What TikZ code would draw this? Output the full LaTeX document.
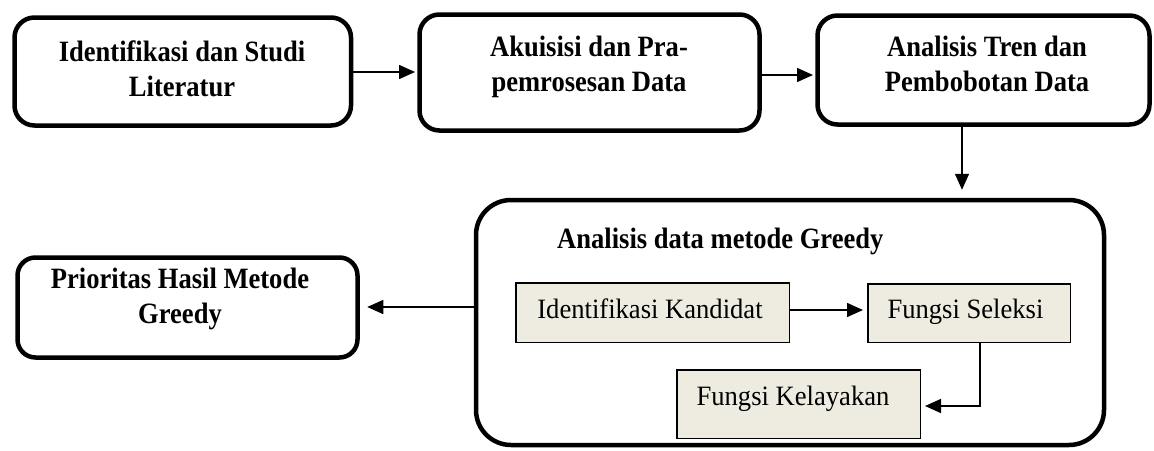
\documentclass[tikz,border=0pt]{standalone}
\usepackage{fontspec}
\setmainfont{Liberation Serif}[FakeStretch=0.95]
\newfontfamily\boldfam{Liberation Serif}[FakeStretch=0.9]
\usetikzlibrary{arrows.meta,calc}
\definecolor{boxfill}{RGB}{238,236,225}
\begin{document}
\begin{tikzpicture}[x=1pt,y=-1pt,
  roundbox/.style={draw, line width=4.5pt, rounded corners=20pt, inner sep=0pt},
  innerbox/.style={draw, line width=1.5pt, fill=boxfill, inner sep=0pt},
  boldtxt/.style={font=\boldfam\fontsize{29.5}{35}\selectfont\bfseries, align=center, inner sep=0pt, anchor=base},
  plaintxt/.style={font=\fontsize{28}{35}\selectfont, inner sep=0pt, anchor=base},
  arr/.style={line width=1.5pt, -{Triangle[length=16pt,width=14pt]}}]
\useasboundingbox (0,0) rectangle (1154,450);
% boxes
\node[roundbox, minimum width=336.5pt, minimum height=108pt] (b1) at (182.75,71.5) {};
\node[roundbox, minimum width=340pt, minimum height=116pt] (b2) at (589.5,72.5) {};
\node[roundbox, minimum width=332pt, minimum height=109pt] (b3) at (983.5,70) {};
\node[roundbox, rounded corners=35pt, minimum width=628pt, minimum height=245pt] (big) at (790,322.5) {};
\node[roundbox, rounded corners=18pt, minimum width=340pt, minimum height=100pt] (pr) at (187.5,307.5) {};
\node[innerbox, minimum width=273.5pt, minimum height=59.5pt] (ik) at (652.5,312.5) {};
\node[innerbox, minimum width=202.5pt, minimum height=58.5pt] (fs) at (969,313) {};
\node[innerbox, minimum width=243.5pt, minimum height=68.5pt] (fk) at (798.5,404) {};
% texts
\node[boldtxt] (t1) at (182,96) {Identifikasi dan Studi\\Literatur};
\node[boldtxt] (t2) at (589,91) {Akuisisi dan Pra-\\pemrosesan Data};
\node[boldtxt] (t3) at (987,91) {Analisis Tren dan\\Pembobotan Data};
\node[boldtxt] (t5) at (180,323) {Prioritas Hasil Metode\\Greedy};
\node[boldtxt, anchor=base west] (tt) at (557,248) {Analisis data metode Greedy};
\node[plaintxt] (tik) at (650,318) {Identifikasi Kandidat};
\node[plaintxt] (tfs) at (965.5,318) {Fungsi Seleksi};
\node[plaintxt] (tfk) at (793,405) {Fungsi Kelayakan};
% helper coordinates
\coordinate (y72) at (0,72);
\coordinate (y75) at (0,75);
\coordinate (y307) at (0,307);
\coordinate (y310) at (0,310);
\coordinate (y406) at (0,406);
\coordinate (x962) at (962,0);
\coordinate (x980) at (980,0);
% connectors
\draw[arr, shorten >=2.25pt] (b1.east |- y72) -- (b2.west |- y72);
\draw[arr, shorten >=2.25pt] (b2.east |- y75) -- (b3.west |- y75);
\draw[arr, shorten >=8pt] (x962 |- b3.south) -- (x962 |- big.north);
\draw[arr, shorten >=7.5pt] (big.west |- y307) -- (pr.east |- y307);
\draw[arr, shorten >=4pt] (ik.east |- y310) -- (fs.west |- y310);
\draw[arr, shorten >=4pt] (x980 |- fs.south) |- (fk.east |- y406);
\end{tikzpicture}
\end{document}
